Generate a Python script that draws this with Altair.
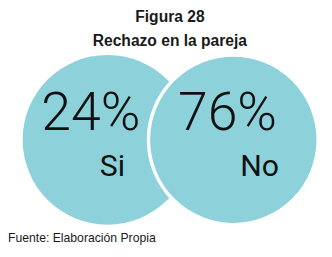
import altair as alt
import pandas as pd

# ---- data ----
categories = ["Si", "No"]
values = [24, 76]
title_lines = ["Figura 28", "Rechazo en la pareja"]
source_note = "Fuente: Elaboración Propia"

# ---- layout (window pixel coordinates) ----
W, H, M = 332, 257, 8
circle_cx = [110, 239]
circle_cy = 140
radius = 87
pct_dx = [-17, -6]
cat_dx = [5, 27]

df = pd.DataFrame({
    "cat": categories,
    "val": values,
    "pct": [f"{v}%" for v in values],
    "cx": circle_cx,
    "cy": [circle_cy] * len(categories),
    "px": [c + d for c, d in zip(circle_cx, pct_dx)],
    "py": [130] * len(categories),
    "qx": [c + d for c, d in zip(circle_cx, cat_dx)],
    "qy": [177] * len(categories),
})

xs = alt.Scale(domain=[M, W], range=[0, W - M])
ys = alt.Scale(domain=[M, H], range=[0, H - M])
# Vega symbol size is the area of the bounding square: radius = sqrt(size)/2
area = (2 * radius) ** 2
fill = "#8dd1db"

base = alt.Chart(df)

left_circle = base.transform_filter(alt.datum.cat == "Si").mark_point(
    shape="circle", size=area, filled=True, fill=fill, fillOpacity=1, strokeWidth=0
).encode(x=alt.X("cx:Q", scale=xs, axis=None), y=alt.Y("cy:Q", scale=ys, axis=None))

right_circle = base.transform_filter(alt.datum.cat == "No").mark_point(
    shape="circle", size=area, filled=True, fill=fill, fillOpacity=1,
    stroke="white", strokeWidth=3.5, strokeOpacity=1
).encode(x=alt.X("cx:Q", scale=xs, axis=None), y=alt.Y("cy:Q", scale=ys, axis=None))

pct_text = base.mark_text(
    font="Roboto", fontWeight=300, fontSize=55, color="#111111",
    align="center", baseline="alphabetic"
).encode(x=alt.X("px:Q", scale=xs, axis=None), y=alt.Y("py:Q", scale=ys, axis=None), text="pct:N")

cat_text = base.mark_text(
    font="Roboto", fontWeight=400, fontSize=31, color="#111111",
    align="center", baseline="alphabetic"
).encode(x=alt.X("qx:Q", scale=xs, axis=None), y=alt.Y("qy:Q", scale=ys, axis=None), text="cat:N")

tdf = pd.DataFrame({"t": title_lines, "x": [174, 174], "y": [19, 44]})
titles = alt.Chart(tdf).mark_text(
    font="Liberation Sans", fontWeight="bold", fontSize=16, color="#1a1a1a",
    align="center", baseline="alphabetic"
).encode(x=alt.X("x:Q", scale=xs, axis=None), y=alt.Y("y:Q", scale=ys, axis=None), text="t:N")

fdf = pd.DataFrame({"t": [source_note], "x": [8], "y": [245]})
footer = alt.Chart(fdf).mark_text(
    font="Liberation Sans", fontSize=12.5, color="#1a1a1a",
    align="left", baseline="alphabetic"
).encode(x=alt.X("x:Q", scale=xs, axis=None), y=alt.Y("y:Q", scale=ys, axis=None), text="t:N")

chart = alt.layer(left_circle, right_circle, pct_text, cat_text, titles, footer).properties(
    width=W - M, height=H - M, padding=0, autosize=alt.AutoSizeParams(type="none"),
    background="white"
).configure_view(stroke=None, clip=False)

chart.save("out.html", embed_options={"renderer": "svg", "actions": False})
